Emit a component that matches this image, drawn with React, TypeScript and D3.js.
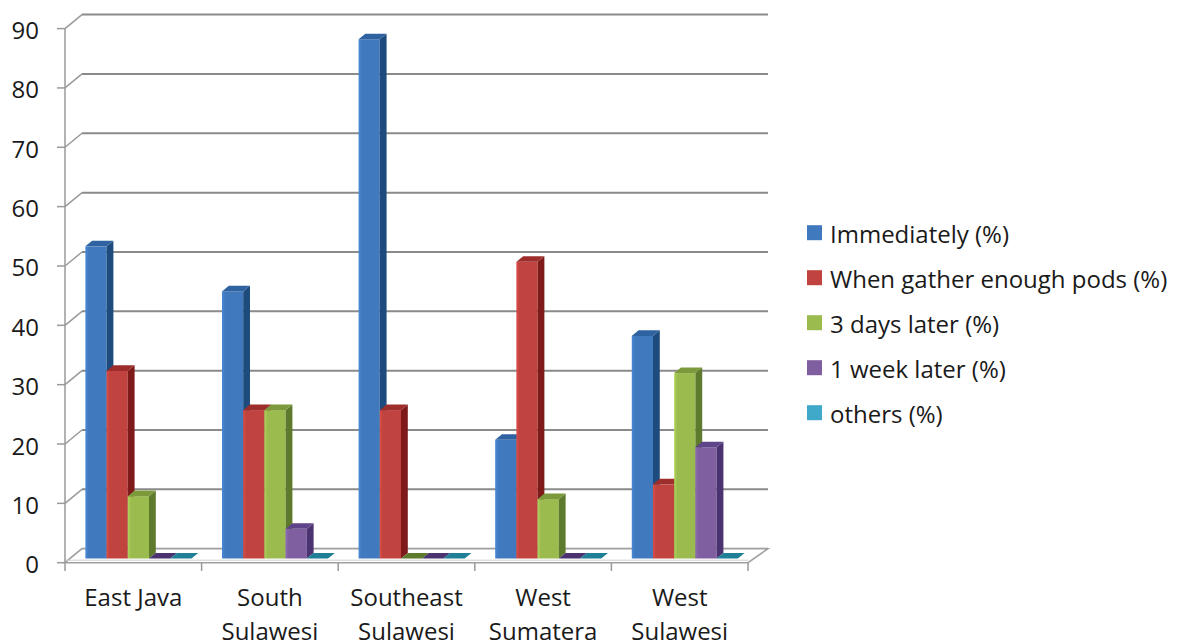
import React from "react";
import * as d3 from "d3";

const categories = ["East Java", "South Sulawesi", "Southeast Sulawesi", "West Sumatera", "West Sulawesi"];
const categoryLines = [["East Java"], ["South", "Sulawesi"], ["Southeast", "Sulawesi"], ["West", "Sumatera"], ["West", "Sulawesi"]];

const seriesNames = ["Immediately (%)", "When gather enough pods (%)", "3 days later (%)", "1 week later (%)", "others (%)"];
const immediately = [52.6, 45, 87.5, 20, 37.5];
const whenGather = [31.6, 25, 25, 50, 12.5];
const threeDays = [10.5, 25, 0, 10, 31.25];
const oneWeek = [0, 5, 0, 0, 18.75];
const others = [0, 0, 0, 0, 0];
const yTicks = [0, 10, 20, 30, 40, 50, 60, 70, 80, 90];

const frontColors = ["#4079BE", "#C0433F", "#9BBB4F", "#7F5FA0", "#40A8C8"];
const sideColors = ["#1E4B7D", "#7E1A1A", "#5E7A2C", "#4B3270", "#1F7F96"];
const topColors = ["#2E62A0", "#9E2E2C", "#7C9A3C", "#5E4488", "#2A8FA8"];

const seriesValues = [immediately, whenGather, threeDays, oneWeek, others];

const FONT = "'Open Sans', sans-serif";

export default function App() {
  const x0 = 65, x1 = 748;
  const DX = 17, DY = -14; // back-wall offset
  const zF = 0.3, zB = 0.7; // bar front / back depth
  const y = d3.scaleLinear().domain([0, 90]).range([562.7, 28.6]);
  const xCat = d3.scaleBand<string>().domain(categories).range([x0, x1]).paddingInner(0).paddingOuter(0);
  const xSer = d3.scaleBand<string>().domain(seriesNames).range([0, xCat.bandwidth()]).paddingInner(0).paddingOuter(0.72);
  const bdx = DX * (zB - zF), bdy = DY * (zB - zF);

  const pts = (arr: number[][]) => arr.map((p) => p.join(",")).join(" ");

  const bars: React.ReactNode[] = [];
  categories.forEach((c, ci) => {
    seriesNames.forEach((s, si) => {
      const v = seriesValues[si][ci];
      const bx0 = (xCat(c) as number) + (xSer(s) as number) + DX * zF;
      const bx1 = bx0 + xSer.bandwidth();
      const yb = y(0) + DY * zF;
      const yt = y(v) + DY * zF;
      const key = `${ci}-${si}`;
      bars.push(
        <g key={key}>
          {v > 0 && (
            <rect x={bx0} y={yt} width={bx1 - bx0} height={yb - yt} fill={`url(#grad${si})`} />
          )}
          {v > 0 && (
            <polygon points={pts([[bx1, yt], [bx1 + bdx, yt + bdy], [bx1 + bdx, yb + bdy], [bx1, yb]])} fill={sideColors[si]} />
          )}
          <polygon points={pts([[bx0, yt], [bx1, yt], [bx1 + bdx, yt + bdy], [bx0 + bdx, yt + bdy]])} fill={v > 0 ? topColors[si] : sideColors[si]} />
        </g>
      );
    });
  });

  const catBounds = [...categories.map((c) => xCat(c) as number), x1];

  return (
    <svg width={1181} height={643} style={{ position: "absolute", left: 0, top: 0, background: "#fff" }}>
      <defs>
        {frontColors.map((col, i) => (
          <linearGradient key={i} id={`grad${i}`} x1="0" x2="1" y1="0" y2="0">
            <stop offset="0" stopColor={d3.color(col)!.brighter(0.35).toString()} />
            <stop offset="0.15" stopColor={col} />
            <stop offset="1" stopColor={col} />
          </linearGradient>
        ))}
      </defs>
      {/* back wall gridlines and left wall diagonals */}
      {yTicks.map((t) => (
        <g key={t}>
          <line x1={x0 + DX} x2={x1 + DX + 3} y1={y(t) + DY} y2={y(t) + DY} stroke="#8a8a8a" strokeWidth={2} />
          <line x1={x0} x2={x0 + DX} y1={y(t)} y2={y(t) + DY} stroke="#9a9a9a" strokeWidth={1.5} />
          <line x1={57} x2={x0} y1={y(t)} y2={y(t)} stroke="#9a9a9a" strokeWidth={1.5} />
          <text x={39} y={y(t) + 1} textAnchor="end" dominantBaseline="central" fontFamily={FONT} fontSize={24} fill="#1a1a1a">
            {t}
          </text>
        </g>
      ))}
      {/* floor */}
      <polygon points={pts([[x0, y(0)], [x1, y(0)], [x1 + DX + 3, y(0) + DY], [x0 + DX, y(0) + DY]])} fill="#fff" stroke="#a0a0a0" strokeWidth={1.5} />
      <line x1={x0} x2={x1} y1={y(0) - 2.5} y2={y(0) - 2.5} stroke="#d0d0d0" strokeWidth={1} />
      {/* vertical axis */}
      <line x1={x0} x2={x0} y1={y(90)} y2={y(0)} stroke="#9a9a9a" strokeWidth={1.5} />
      {catBounds.map((b, i) => (
        <line key={i} x1={b} x2={b} y1={y(0)} y2={571} stroke="#9a9a9a" strokeWidth={1.5} />
      ))}
      {bars}
      {/* category labels */}
      {categories.map((c, ci) => (
        <text key={c} textAnchor="middle" fontFamily={FONT} fontSize={24} fill="#1a1a1a">
          {categoryLines[ci].map((ln, li) => (
            <tspan key={li} x={(xCat(c) as number) + xCat.bandwidth() / 2} y={606 + li * 34}>
              {ln}
            </tspan>
          ))}
        </text>
      ))}
      {/* legend */}
      {seriesNames.map((s, si) => (
        <g key={s} transform={`translate(807, ${232.7 + si * 45})`}>
          <rect x={0} y={-7.5} width={15} height={15} fill={frontColors[si]} />
          <text x={23} y={1} dominantBaseline="central" fontFamily={FONT} fontSize={24} fill="#1a1a1a">
            {s}
          </text>
        </g>
      ))}
    </svg>
  );
}
